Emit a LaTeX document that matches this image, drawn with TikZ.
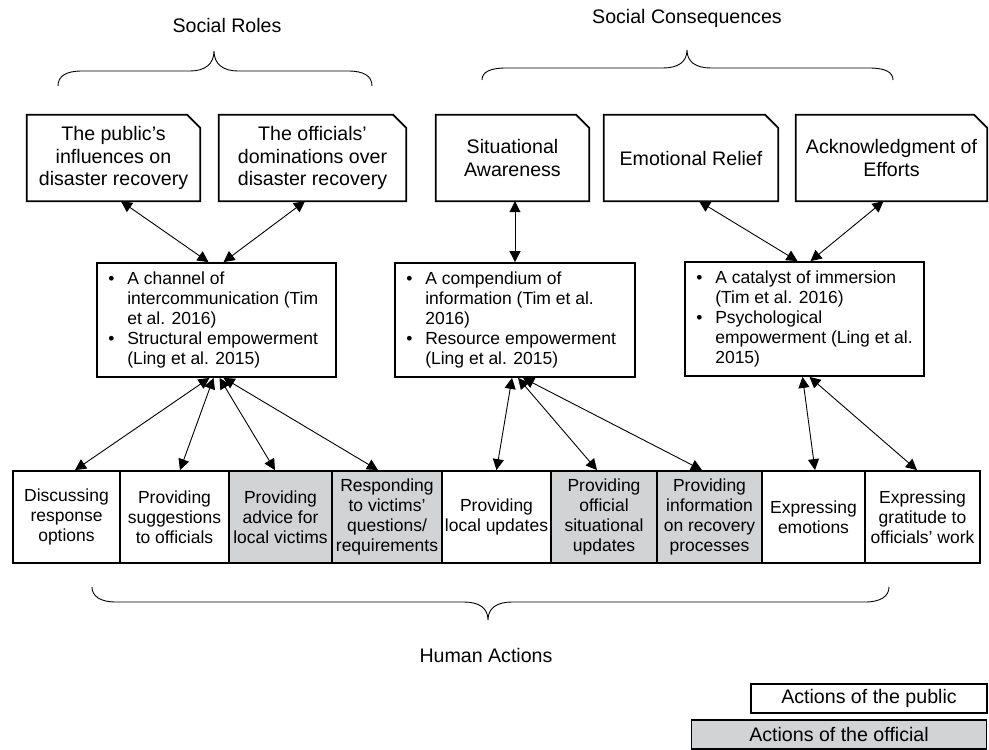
\documentclass[tikz,border=0pt]{standalone}
\usepackage{fontspec}
\setmainfont{Liberation Sans}
\usetikzlibrary{arrows.meta}
\definecolor{offgray}{RGB}{209,211,212}
\newcommand{\bl}{\makebox[19pt][l]{\textbullet}}
\newcommand{\ind}{\hspace*{19pt}}
\begin{document}
\begin{tikzpicture}[x=1pt,y=-1pt,
  big/.style={font=\fontsize{19.6}{22.5}\selectfont},
  small/.style={font=\fontsize{17.5}{20}\selectfont},
  topbox/.style={big, align=center, inner sep=0pt, minimum height=86pt},
  outline/.style={line width=1.8pt, line join=miter},
  midbox/.style={draw, line width=1.8pt, minimum height=114pt, inner sep=0pt},
  midtext/.style={small, align=left, anchor=west, inner sep=0pt},
  actbox/.style={draw, line width=1.8pt, small, align=center, minimum height=92pt, inner sep=0pt, fill=white},
  offbox/.style={actbox, fill=offgray},
  legbox/.style={draw, line width=1.8pt, big, minimum height=29pt, inner sep=0pt},
  arr/.style={{Triangle[length=11pt,width=11pt]}-{Triangle[length=11pt,width=11pt]}, line width=0.9pt},
  bracel/.style={line width=0.9pt},
  label/.style={big, inner sep=0pt}]
\useasboundingbox (0,0) rectangle (989,750);

% group labels
\node[label] (lroles) at (227,25) {Social Roles};
\node[label] (lcons) at (687,18) {Social Consequences};
\node[label] (lact) at (486,655) {Human Actions};

% braces
\coordinate (sr1) at (58,86); \coordinate (sr2) at (372,86);
\draw[bracel] (sr1) .. controls (58,76) and (66,71) .. (82,71) -- (190,71)
  .. controls (205,71) and (214,64) .. (214,51)
  .. controls (214,64) and (223,71) .. (238,71) -- (348,71)
  .. controls (364,71) and (372,76) .. (sr2);
\coordinate (sc1) at (482,80); \coordinate (sc2) at (893,80);
\draw[bracel] (sc1) .. controls (482,72) and (490,68) .. (506,68) -- (663,68)
  .. controls (678,68) and (687,62) .. (687,50)
  .. controls (687,62) and (696,68) .. (711,68) -- (869,68)
  .. controls (885,68) and (893,72) .. (sc2);
\coordinate (ha1) at (92,587); \coordinate (ha2) at (889,587);
\draw[bracel] (ha1) .. controls (92,596) and (100,602) .. (116,602) -- (464,602)
  .. controls (479,602) and (488,608) .. (488,620)
  .. controls (488,608) and (497,602) .. (512,602) -- (865,602)
  .. controls (881,602) and (889,596) .. (ha2);

% top boxes
\node[topbox, minimum width=173pt] (t1) at (113.5,158) {The public's\\influences on\\disaster recovery};
\node[topbox, minimum width=187pt] (t2) at (312.5,158) {The officials'\\dominations over\\disaster recovery};
\node[topbox, minimum width=153pt] (t3) at (512.5,158) {Situational\\Awareness};
\node[topbox, minimum width=174pt] (t4) at (691,158) {Emotional Relief};
\node[topbox, minimum width=191pt] (t5) at (891.5,158) {Acknowledgment of\\Efforts};
\foreach \n in {t1,t2,t3,t4,t5}
  \draw[outline] (\n.south west) -- (\n.north west) -- ([xshift=-13pt]\n.north east)
    -- ([yshift=-13pt]\n.north east) -- (\n.south east) -- cycle;

% middle boxes
\node[midbox, minimum width=239pt] (m1) at (216.5,320) {};
\node[midtext] (m1t) at ([xshift=12pt]m1.west) {\bl A channel of\\\ind intercommunication (Tim\\\ind et al. 2016)\\\bl Structural empowerment\\\ind (Ling et al. 2015)};
\node[midbox, minimum width=240pt] (m2) at (515,320) {};
\node[midtext] (m2t) at ([xshift=12pt]m2.west) {\bl A compendium of\\\ind information (Tim et al.\\\ind 2016)\\\bl Resource empowerment\\\ind (Ling et al. 2015)};
\node[midbox, minimum width=239pt] (m3) at (804.5,319) {};
\node[midtext] (m3t) at ([xshift=12pt]m3.west) {\bl A catalyst of immersion\\\ind (Tim et al. 2016)\\\bl Psychological\\\ind empowerment (Ling et al.\\\ind 2015)};

% action boxes
\node[actbox, minimum width=107pt] (b1) at (66.5,517) {Discussing\\response\\options};
\node[actbox, minimum width=109pt] (b2) at (174.5,517) {Providing\\suggestions\\to officials};
\node[offbox, minimum width=103pt] (b3) at (280.5,517) {Providing\\advice for\\local victims};
\node[offbox, minimum width=110pt] (b4) at (387,517) {Responding\\to victims'\\questions/\\requirements};
\node[actbox, minimum width=109pt] (b5) at (496.5,517) {Providing\\local updates};
\node[offbox, minimum width=106pt] (b6) at (604,517) {Providing\\official\\situational\\updates};
\node[offbox, minimum width=105pt] (b7) at (709.5,517) {Providing\\information\\on recovery\\processes};
\node[actbox, minimum width=103pt] (b8) at (813.5,517) {Expressing\\emotions};
\node[actbox, minimum width=115pt] (b9) at (922.5,517) {Expressing\\gratitude to\\officials' work};

% connectors top-mid
\draw[arr] ([xshift=7.5pt]t1.south) -- ([xshift=-8pt]m1.north);
\draw[arr] ([xshift=-7.5pt]t2.south) -- ([xshift=7pt]m1.north);
\draw[arr] ([xshift=2.5pt]t3.south) -- (m2.north);
\draw[arr] ([xshift=8pt]t4.south) -- ([xshift=-7pt]m3.north);
\draw[arr] ([xshift=-8pt]t5.south) -- ([xshift=6pt]m3.north);

% connectors mid-bottom
\draw[arr] ([xshift=-7pt]m1.south) -- ([xshift=8.5pt]b1.north);
\draw[arr] ([xshift=-3pt]m1.south) -- ([xshift=5.5pt]b2.north);
\draw[arr] ([xshift=3pt]m1.south) -- ([xshift=-5.5pt]b3.north);
\draw[arr] ([xshift=7pt]m1.south) -- ([xshift=-9pt]b4.north);
\draw[arr] ([xshift=-3pt]m2.south) -- (b5.north);
\draw[arr] ([xshift=3pt]m2.south) -- ([xshift=-7pt]b6.north);
\draw[arr] ([xshift=8pt]m2.south) -- ([xshift=-7.5pt]b7.north);
\draw[arr] ([xshift=-2pt]m3.south) -- ([xshift=1.5pt]b8.north);
\draw[arr] ([xshift=5pt]m3.south) -- ([xshift=-5.5pt]b9.north);

% legend
\node[legbox, fill=white, minimum width=236pt] (leg1) at (869,698.5) {Actions of the public};
\node[legbox, fill=offgray, minimum width=295pt] (leg2) at (839,734.5) {Actions of the official};
\end{tikzpicture}
\end{document}
